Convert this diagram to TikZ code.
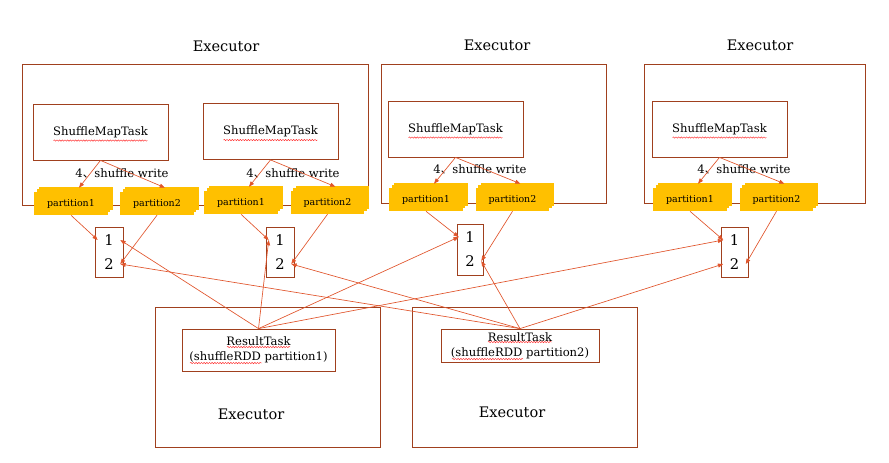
\documentclass[tikz,border=0pt]{standalone}
\usepackage{fontspec}
\setmainfont{DejaVu Serif}
\newfontfamily\cjk{Noto Sans CJK SC}
\usetikzlibrary{arrows.meta,calc,shadows,positioning,decorations.pathmorphing}

\definecolor{boxline}{HTML}{A0401E}
\definecolor{arrowline}{HTML}{E0552C}
\definecolor{partfill}{HTML}{FFC000}
\definecolor{spellred}{HTML}{FF3030}

\begin{document}
\begin{tikzpicture}[x=0.75pt,y=-0.75pt,align=center,font=\fontsize{8.7}{11}\selectfont]
\tikzstyle{executor}=[draw=boxline,line width=0.6pt,inner sep=0pt]
\tikzstyle{task}=[draw=boxline,line width=0.6pt,inner sep=0pt,minimum width=101.25pt,minimum height=42pt]
\tikzstyle{part}=[fill=partfill,inner sep=0pt,font=\fontsize{7.1}{8}\selectfont,
  minimum width=55pt,minimum height=17.25pt,
  double copy shadow={shadow xshift=1.9pt,shadow yshift=1.9pt,fill=partfill,draw=none}]
\tikzstyle{bucket}=[draw=boxline,line width=0.6pt,inner sep=0pt,minimum width=21pt,minimum height=37.5pt]
\tikzstyle{digit}=[inner sep=0pt,minimum width=16.5pt,font=\fontsize{11}{12}\selectfont]
\tikzstyle{title}=[font=\fontsize{10.9}{12}\selectfont]
\tikzstyle{write}=[-{Triangle[length=4pt,width=3pt]},draw=arrowline,line width=0.5pt]
\tikzstyle{spell}=[draw=spellred,line width=0.35pt,decorate,
  decoration={snake,amplitude=0.5pt,segment length=2pt}]

\useasboundingbox (0,0) rectangle (889,462);

% executors
\node[executor, minimum width=259.5pt, minimum height=105.75pt] (e1) at (195,134.5) {};
\node[executor, minimum width=168.75pt, minimum height=104.25pt] (e2) at (493.5,133.5) {};
\node[executor, minimum width=165.75pt, minimum height=104.25pt] (e3) at (754.5,133.5) {};
\node[executor, minimum width=168.75pt, minimum height=105pt] (e4) at (267.5,377) {};
\node[executor, minimum width=168.75pt, minimum height=105pt] (e5) at (524.5,377) {};
\node[title] (e1t) at (226,46) {Executor};
\node[title] (e2t) at (497,45) {Executor};
\node[title] (e3t) at (760,45) {Executor};
\node[title] (e4t) at (251,414) {Executor};
\node[title] (e5t) at (512,412) {Executor};

% map tasks
\node[task] (s1) at (100.5,132) {ShuffleMapTask};
\node[task] (s2) at (270.5,131.5) {ShuffleMapTask};
\node[task] (s3) at (455.5,129) {ShuffleMapTask};
\node[task] (s4) at (719.5,129) {ShuffleMapTask};
\foreach \s in {s1,s2,s3,s4}
  \path[spell] ($(\s.center)+(-47,8.5)$) -- ($(\s.center)+(47,8.5)$);

\node (w1) at (122,173) {4{\cjk 、}shuffle write};
\node (w2) at (293,173) {4{\cjk 、}shuffle write};
\node (w3) at (480,169) {4{\cjk 、}shuffle write};
\node (w4) at (744,169) {4{\cjk 、}shuffle write};

% partitions
\node[part] (p1a) at (71,203.5) {partition1};
\node[part] (p1b) at (157,203.5) {partition2};
\node[part] (p2a) at (241,202.5) {partition1};
\node[part] (p2b) at (327.5,202.5) {partition2};
\node[part] (p3a) at (426,199.5) {partition1};
\node[part] (p3b) at (512.5,199.5) {partition2};
\node[part] (p4a) at (690,199.5) {partition1};
\node[part] (p4b) at (776.5,199.5) {partition2};

% buckets
\node[bucket] (b1) at (109,252) {};
\node[digit] (b1one) at (109,240) {1};
\node[digit] (b1two) at (109,264) {2};
\node[bucket] (b2) at (280,252) {};
\node[digit] (b2one) at (280,240) {1};
\node[digit] (b2two) at (280,264) {2};
\node[bucket, minimum width=19.5pt, minimum height=38.25pt] (b3) at (470,249.5) {};
\node[digit] (b3one) at (470,237) {1};
\node[digit] (b3two) at (470,261) {2};
\node[bucket, minimum width=20.25pt] (b4) at (734.5,252) {};
\node[digit] (b4one) at (734.5,240) {1};
\node[digit] (b4two) at (734.5,264) {2};

% result tasks
\node[task, minimum width=114.75pt, minimum height=31.5pt] (r1) at (258.5,350) {ResultTask\\(shuffleRDD partition1)};
\node[task, minimum width=118.5pt, minimum height=24.75pt] (r2) at (520,345.5) {ResultTask\\(shuffleRDD partition2)};
\path[spell] ($(r1.center)+(-31.5,-3)$) -- ($(r1.center)+(31.5,-3)$);
\path[spell] ($(r1.center)+(-68.5,13)$) -- ($(r1.center)+(3.5,13)$);
\path[spell] ($(r2.center)+(-32,-3.5)$) -- ($(r2.center)+(32,-3.5)$);
\path[spell] ($(r2.center)+(-68,13.5)$) -- ($(r2.center)+(3,13.5)$);

% shuffle write
\path
  (s1.south) edge [write] ($(p1a.north)+(8,-4)$)
  (s1.south) edge [write] ($(p1b.north)+(8,-4)$)
  (s2.south) edge [write] ($(p2a.north)+(8,-4)$)
  (s2.south) edge [write] ($(p2b.north)+(8,-4)$)
  (s3.south) edge [write] ($(p3a.north)+(8,-4)$)
  (s3.south) edge [write] ($(p3b.north)+(8,-4)$)
  (s4.south) edge [write] ($(p4a.north)+(8,-4)$)
  (s4.south) edge [write] ($(p4b.north)+(8,-4)$);

\path
  (p1a.south) edge [write] (b1one.west)
  (p1b.south) edge [write] (b1two.east)
  (p2a.south) edge [write] (b2one.west)
  (p2b.south) edge [write] (b2two.east)
  (p3a.south) edge [write] (b3one.west)
  (p3b.south) edge [write] (b3two.east)
  (p4a.south) edge [write] (b4one.west)
  (p4b.south) edge [write] (b4two.east);

% shuffle read
\path
  (r1.north) edge [write] (b1one.east)
  (r1.north) edge [write] (b2one.west)
  (r1.north) edge [write] (b3one.west)
  (r1.north) edge [write] (b4one.west)
  (r2.north) edge [write] (b1two.east)
  (r2.north) edge [write] (b2two.east)
  (r2.north) edge [write] (b3two.east)
  (r2.north) edge [write] (b4two.west);
\end{tikzpicture}
\end{document}
